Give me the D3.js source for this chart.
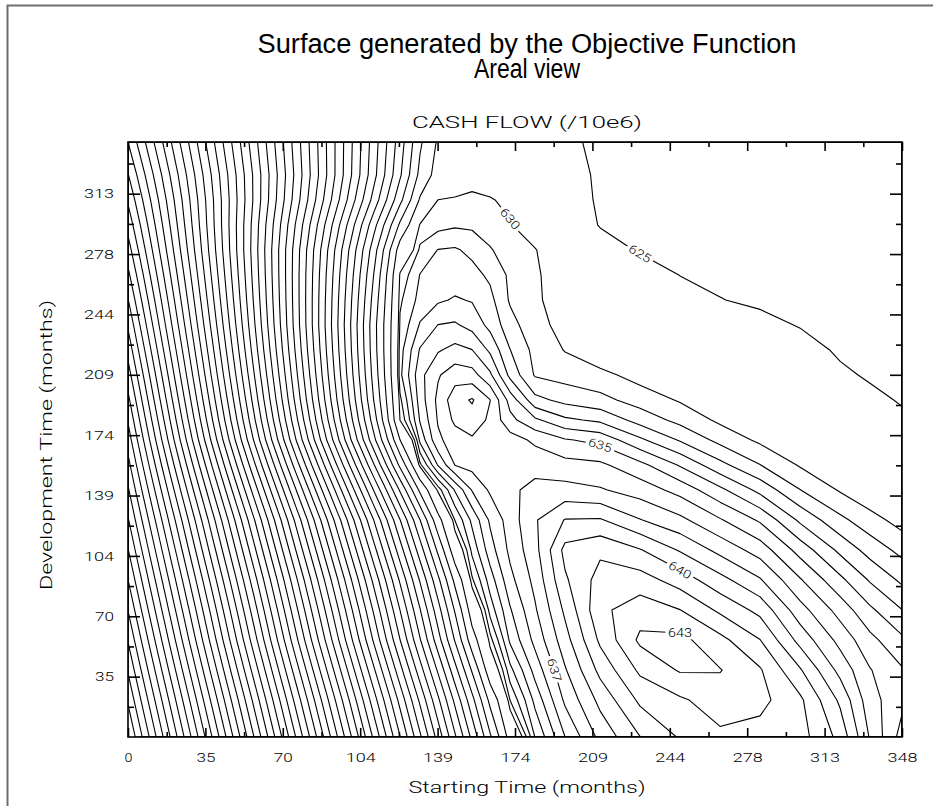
<!DOCTYPE html>
<html>
<head>
<meta charset="utf-8">
<script src="https://cdn.jsdelivr.net/npm/d3@7"></script>
<style>
  body { margin: 0; background: #fff; }
  svg { display: block; }
  .stroke-font { font-family: Roboto, "DejaVu Sans", sans-serif; font-weight: 300; fill: #000; }
</style>
</head>
<body>
<svg id="chart" width="933" height="806"></svg>
<script>
// grid columns: starting time (months), grid rows: development time (months)
const startMonths = [0, 18.9, 37.8, 56.7, 75.5, 94.4, 110.6, 122.3, 131.3, 139.4, 147.0, 154.7, 162.8,
  171.8, 183.0, 196.5, 212.3, 230.2, 248.2, 266.2, 284.2, 302.2, 320.2, 333.6, 348];
const devMonths = [0, 21.3, 38.6, 55.9, 73.2, 90.5, 107.8, 125.1, 142.4, 156.8, 171.2, 182.7,
  194.3, 208.7, 223.1, 237.5, 251.9, 266.3, 280.7, 295.2, 309.6, 324.0, 343.0];

// cash flow (/10e6), one row per development time (bottom row first)
const cashFlow = [
  [354.8, 384.9, 415.0, 445.1, 475.2, 505.3, 531.1, 549.8, 564.1, 577.0, 589.2, 601.3, 614.2, 627.1, 633.05, 636.0, 638.3, 639.98, 641.1, 641.8, 641.6, 641.4, 639.7, 636.9, 634.6],
  [360.7, 390.9, 421.2, 451.4, 481.7, 511.9, 537.9, 556.6, 571.0, 584.0, 596.2, 608.4, 621.4, 631.05, 634.3, 637.2, 639.3, 641.2, 641.85, 642.5, 642.3, 641.2, 638.8, 636.4, 635.25],
  [365.5, 396.0, 426.6, 457.1, 487.6, 518.1, 544.3, 563.2, 577.8, 590.8, 603.2, 615.6, 628.1, 632.7, 635.38, 637.9, 640.3, 642.2, 643.1, 643.05, 642.1, 640.1, 637.67, 636.06, 635.1],
  [370.3, 401.1, 432.0, 462.8, 493.6, 524.4, 550.9, 569.9, 584.6, 597.9, 610.4, 622.9, 630.6, 634.2, 636.3, 638.6, 641.2, 643.2, 643.3, 642.3, 641.02, 638.65, 636.67, 635.3, 634.2],
  [375.1, 406.0, 436.8, 467.7, 498.6, 529.5, 555.9, 575.0, 589.7, 603.0, 615.5, 627.5, 632.43, 634.9, 636.87, 639.2, 641.77, 642.55, 642.02, 640.8, 639.7, 637.4, 635.6, 634.2, 633.02],
  [379.9, 410.9, 441.9, 472.9, 503.9, 535.0, 561.5, 580.7, 595.5, 608.8, 621.3, 630.83, 633.5, 635.7, 637.3, 639.85, 641.4, 641.45, 640.55, 639.35, 638.1, 636.1, 634.25, 632.9, 631.8],
  [384.7, 416.0, 447.4, 478.7, 510.1, 541.4, 568.3, 587.7, 602.6, 616.1, 628.1, 632.3, 634.55, 636.25, 637.67, 640.3, 640.8, 640.07, 638.9, 637.7, 636.55, 634.6, 632.75, 631.6, 630.7],
  [389.5, 421.2, 452.9, 484.6, 516.3, 548.0, 575.2, 594.8, 609.9, 623.5, 631.05, 633.25, 635.17, 636.48, 637.9, 639.05, 639.1, 638.05, 637.25, 636.1, 634.85, 632.8, 631.25, 630.4, 629.6],
  [394.3, 426.9, 459.5, 492.2, 524.8, 557.4, 585.4, 605.6, 621.1, 630.5, 633.1, 635.07, 636.16, 636.8, 637.3, 637.35, 637.1, 636.55, 635.65, 634.25, 632.7, 631.02, 629.9, 629.2, 628.5],
  [398.3, 431.8, 465.3, 498.9, 532.4, 565.9, 594.7, 616.2, 630.75, 634.1, 636.02, 636.35, 636.7, 636.77, 636.65, 636.35, 636.2, 635.3, 633.9, 632.3, 631.02, 629.9, 628.9, 628.1, 627.3],
  [402.3, 436.7, 471.1, 505.5, 539.9, 574.2, 603.7, 624.95, 633.3, 635.8, 636.5, 636.85, 636.75, 636.45, 635.8, 635.1, 634.7, 633.2, 631.9, 630.7, 629.8, 629.3, 627.9, 627.1, 626.2],
  [405.5, 440.0, 474.6, 509.1, 543.6, 578.1, 607.7, 630.05, 634.1, 636.1, 637.2, 637.6, 636.8, 635.3, 634.2, 633.2, 632.8, 631.6, 630.7, 629.8, 629.02, 628.4, 627.1, 626.25, 625.3],
  [408.7, 443.1, 477.5, 511.9, 546.4, 580.8, 610.3, 630.75, 634.5, 636.25, 637.6, 638.1, 637.02, 634.6, 632.3, 631.7, 631.3, 630.58, 629.9, 628.9, 628.3, 627.5, 626.3, 625.4, 624.86],
  [412.7, 446.7, 480.8, 514.8, 548.8, 582.9, 612.0, 631.75, 634.7, 635.9, 636.55, 636.4, 635.2, 632.7, 630.9, 630.6, 630.3, 629.6, 628.9, 628.02, 627.3, 626.6, 625.3, 624.8, 624.6],
  [416.7, 450.2, 483.7, 517.3, 550.8, 584.3, 613.0, 631.6, 634.1, 634.9, 635.3, 635.02, 633.8, 632.02, 630.7, 629.95, 629.2, 628.6, 627.9, 627.1, 626.4, 625.7, 624.75, 624.5, 624.3],
  [420.7, 453.6, 486.4, 519.3, 552.2, 585.1, 613.3, 631.17, 633.1, 634.02, 634.13, 633.65, 632.7, 631.4, 630.3, 629.7, 628.1, 627.7, 626.85, 626.2, 625.5, 624.9, 624.4, 624.2, 624.02],
  [424.7, 456.7, 488.7, 520.7, 552.6, 584.6, 612.0, 630.83, 632.34, 632.85, 633.1, 632.93, 632.3, 630.87, 630.2, 629.4, 628.4, 627.3, 626.1, 625.05, 624.7, 624.4, 624.1, 623.9, 623.7],
  [428.7, 459.7, 490.7, 521.7, 552.7, 583.7, 610.3, 630.25, 632.04, 632.4, 632.5, 632.35, 631.8, 630.8, 630.2, 629.2, 628.3, 626.3, 624.96, 624.64, 624.3, 624.02, 623.8, 623.65, 623.5],
  [432.7, 462.6, 492.5, 522.4, 552.4, 582.3, 607.9, 627.5, 631.25, 632.04, 632.13, 631.74, 631.07, 630.6, 630.1, 628.4, 626.1, 624.78, 624.4, 624.02, 623.8, 623.6, 623.4, 623.3, 623.2],
  [436.7, 465.1, 493.6, 522.0, 550.5, 578.9, 603.3, 620.9, 630.2, 630.65, 630.85, 630.8, 630.6, 630.1, 628.9, 626.9, 624.85, 624.5, 624.17, 623.9, 623.7, 623.5, 623.3, 623.16, 623.02],
  [440.7, 467.4, 494.1, 520.8, 547.5, 574.2, 597.0, 613.6, 625.6, 630.02, 630.2, 630.25, 630.1, 629.7, 628.3, 626.02, 624.74, 624.3, 623.8, 623.5, 623.3, 623.1, 622.9, 622.76, 622.6],
  [444.7, 470.1, 495.5, 520.9, 546.3, 571.8, 593.5, 609.3, 621.4, 627.1, 628.5, 629.5, 629.25, 629.02, 627.5, 625.8, 624.7, 624.24, 623.75, 623.4, 623.2, 623.02, 622.8, 622.65, 622.5],
  [450.0, 474.3, 498.7, 523.0, 547.4, 571.7, 592.6, 607.6, 619.2, 625.7, 627.2, 628.5, 628.3, 628.1, 627.2, 625.5, 624.5, 623.9, 623.3, 623.1, 622.85, 622.6, 622.36, 622.18, 622.02]
];

const levels = [360, 365, 370, 375, 380, 385, 390, 395, 400, 405, 410, 415, 420, 425, 430, 435,
  440, 445, 450, 455, 460, 465, 470, 475, 480, 485, 490, 495, 500, 505, 510, 515, 520, 525, 530,
  535, 540, 545, 550, 555, 560, 565, 570, 575, 580, 585, 590, 595, 600, 605, 610, 615, 620, 625,
  630, 631, 632, 633, 634, 635, 636, 637, 638, 639, 640, 641, 642, 643];

const xTicks = [0, 34.8, 69.6, 104.4, 139.2, 174, 208.8, 243.6, 278.4, 313.2, 348];
const xMinor = [17.4, 52.2, 87, 121.8, 156.6, 191.4, 226.2, 261, 295.8, 330.6];
const yTicks = [34.8, 69.6, 104.4, 139.2, 174, 208.8, 243.6, 278.4, 313.2];
const yMinor = [17.4, 52.2, 87, 121.8, 156.6, 191.4, 226.2, 261, 295.8, 330.6];

// contour labels: level and a point (months) near where it is written
const labelLevels = [630, 625, 635, 640, 643, 637];
const labelNear = [[170.9, 299.8], [232.5, 273.8], [212.2, 171.2], [240.5, 102.0], [249.1, 60.0], [188.8, 39.8]];

const svg = d3.select("#chart"),
  width = +svg.attr("width"),
  height = +svg.attr("height"),
  margin = { top: 142, right: 31, bottom: 69, left: 128 };

const chartWidth = width - margin.left - margin.right;
const chartHeight = height - margin.top - margin.bottom;

// outer grey frame
svg.append("rect")
  .attr("x", 7.5).attr("y", 5.5)
  .attr("width", 940).attr("height", 820)
  .attr("fill", "none").attr("stroke", "#6e6e6e").attr("stroke-width", 2);

const g = svg.append("g").attr("transform", `translate(${margin.left},${margin.top})`);

const x = d3.scaleLinear().domain([0, 348]).range([0, chartWidth]);
const y = d3.scaleLinear().domain([0, 343]).range([chartHeight, 0]);

// grid index space -> months
const gx = d3.scaleLinear().domain(startMonths.map((d, i) => i + 0.5)).range(startMonths).clamp(true);
const gy = d3.scaleLinear().domain(devMonths.map((d, i) => i + 0.5)).range(devMonths).clamp(true);

const nx = startMonths.length, ny = devMonths.length;
const contours = d3.contours().size([nx, ny]).thresholds(levels)(cashFlow.flat());

const toPx = p => [x(gx(p[0])), y(gy(p[1]))];
const path = d3.geoPath(d3.geoTransform({
  point(px, py) { const p = toPx([px, py]); this.stream.point(p[0], p[1]); }
}));

g.append("clipPath").attr("id", "plotClip")
  .append("rect").attr("width", chartWidth).attr("height", chartHeight);

const lines = g.append("g").attr("clip-path", "url(#plotClip)");
lines.selectAll("path")
  .data(contours)
  .join("path")
  .attr("d", path)
  .attr("fill", "none")
  .attr("stroke", "#000")
  .attr("stroke-width", 1.1)
  .attr("stroke-linejoin", "round");

// labels on the contour lines
labelLevels.forEach((lv, k) => {
  const c = contours.find(d => d.value === lv);
  if (!c) return;
  const target = [x(labelNear[k][0]), y(labelNear[k][1])];
  let best = null;
  c.coordinates.forEach(poly => poly.forEach(ring => {
    const pts = ring.map(toPx);
    pts.forEach((p, i) => {
      if (p[0] < 2 || p[0] > chartWidth - 2 || p[1] < 2 || p[1] > chartHeight - 2) return;
      const dd = (p[0] - target[0]) ** 2 + (p[1] - target[1]) ** 2;
      if (!best || dd < best.dd) best = { dd, pts, i };
    });
  }));
  if (!best) return;
  const n = best.pts.length;
  const a = best.pts[(best.i - 2 + n) % n], b = best.pts[(best.i + 2) % n];
  let ang = Math.atan2(b[1] - a[1], b[0] - a[0]) * 180 / Math.PI;
  if (ang > 90) ang -= 180;
  if (ang < -90) ang += 180;
  const p = best.pts[best.i];
  g.append("text")
    .attr("class", "stroke-font")
    .attr("transform", `translate(${p[0]},${p[1]}) rotate(${ang})`)
    .attr("dy", "0.35em")
    .attr("text-anchor", "middle")
    .attr("font-size", 12)
    .attr("textLength", 24)
    .attr("lengthAdjust", "spacingAndGlyphs")
    .attr("stroke", "#fff").attr("stroke-width", 6).attr("paint-order", "stroke")
    .text(lv);
});

// frame
g.append("rect")
  .attr("width", chartWidth).attr("height", chartHeight)
  .attr("fill", "none").attr("stroke", "#000").attr("stroke-width", 1.6);

function styleAxis(sel) {
  sel.select(".domain").remove();
  sel.selectAll(".tick line").attr("stroke", "#000").attr("stroke-width", 1.6);
  sel.selectAll(".tick text")
    .attr("class", "stroke-font")
    .attr("font-size", 13)
    .attr("textLength", function () { return this.textContent.length * 11 - 3; })
    .attr("lengthAdjust", "spacingAndGlyphs");
}

const fmt = d => Math.round(d);

g.append("g").attr("transform", `translate(0,${chartHeight})`)
  .call(d3.axisBottom(x).tickValues(xTicks).tickSize(-9).tickPadding(16).tickFormat(fmt))
  .call(styleAxis);
g.append("g").attr("transform", `translate(0,${chartHeight})`)
  .call(d3.axisBottom(x).tickValues(xMinor).tickSize(-5).tickFormat(""))
  .call(styleAxis);
g.append("g")
  .call(d3.axisTop(x).tickValues(xTicks).tickSize(-9).tickFormat(""))
  .call(styleAxis);
g.append("g")
  .call(d3.axisTop(x).tickValues(xMinor).tickSize(-5).tickFormat(""))
  .call(styleAxis);
g.append("g")
  .call(d3.axisLeft(y).tickValues(yTicks).tickSize(-12).tickPadding(14).tickFormat(fmt))
  .call(styleAxis);
g.append("g")
  .call(d3.axisLeft(y).tickValues(yMinor).tickSize(-6).tickFormat(""))
  .call(styleAxis);
g.append("g").attr("transform", `translate(${chartWidth},0)`)
  .call(d3.axisRight(y).tickValues(yTicks).tickSize(-12).tickFormat(""))
  .call(styleAxis);
g.append("g").attr("transform", `translate(${chartWidth},0)`)
  .call(d3.axisRight(y).tickValues(yMinor).tickSize(-6).tickFormat(""))
  .call(styleAxis);

// titles (the reference centres them a little right of the plot centre)
const cx = 527;
svg.append("text")
  .attr("x", cx).attr("y", 53).attr("text-anchor", "middle")
  .style("font-family", "'Liberation Sans', Arial, sans-serif").style("font-size", "27px")
  .attr("textLength", 539).attr("lengthAdjust", "spacingAndGlyphs")
  .text("Surface generated by the Objective Function");
svg.append("text")
  .attr("x", cx).attr("y", 78).attr("text-anchor", "middle")
  .style("font-family", "'Liberation Sans', Arial, sans-serif").style("font-size", "27px")
  .attr("textLength", 106).attr("lengthAdjust", "spacingAndGlyphs")
  .text("Areal view");
svg.append("text")
  .attr("class", "stroke-font")
  .attr("x", cx).attr("y", 128).attr("text-anchor", "middle")
  .attr("font-size", 16)
  .attr("textLength", 230).attr("lengthAdjust", "spacingAndGlyphs")
  .text("CASH FLOW (/10e6)");
svg.append("text")
  .attr("class", "stroke-font")
  .attr("x", cx).attr("y", 793).attr("text-anchor", "middle")
  .attr("font-size", 16)
  .attr("textLength", 237).attr("lengthAdjust", "spacingAndGlyphs")
  .text("Starting Time (months)");
svg.append("text")
  .attr("class", "stroke-font")
  .attr("transform", "translate(52,445) rotate(-90)")
  .attr("text-anchor", "middle")
  .attr("font-size", 16)
  .attr("textLength", 290).attr("lengthAdjust", "spacingAndGlyphs")
  .text("Development Time (months)");
</script>
</body>
</html>
